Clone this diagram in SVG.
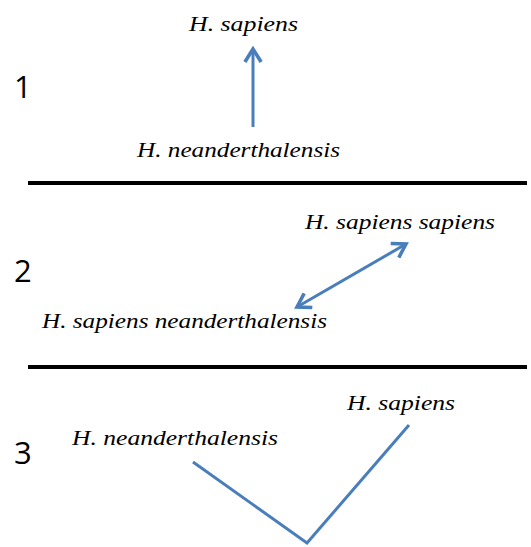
<svg xmlns="http://www.w3.org/2000/svg" width="531" height="547" viewBox="0 0 531 547">
<style>
.lbl{font-family:"Liberation Serif",serif;font-style:italic;font-size:22px;fill:#000}
.num{font-family:"Open Sans","Liberation Sans",sans-serif;font-size:31px;fill:#000}
.con{stroke:#4a7ebb;stroke-width:3;fill:none}
.sep{stroke:#000;stroke-width:4}
</style>
<defs>
<marker id="arr" viewBox="0 0 12 12" refX="10" refY="6" markerWidth="6.5" markerHeight="6.5" orient="auto-start-reverse" markerUnits="strokeWidth">
<path d="M2,1 L10,6 L2,11" fill="none" stroke="#4a7ebb" stroke-width="2.2"/>
</marker>
</defs>
<g id="separators">
<line class="sep" x1="28" y1="183" x2="527" y2="183"/>
<line class="sep" x1="28" y1="367" x2="527" y2="367"/>
</g>
<g id="numbers">
<text class="num" x="14" y="98">1</text>
<text class="num" x="14" y="282">2</text>
<text class="num" x="14" y="464">3</text>
</g>
<g id="n1-sapiens"><text class="lbl" x="189" y="31" textLength="109" lengthAdjust="spacingAndGlyphs">H. sapiens</text></g>
<g id="n1-neander"><text class="lbl" x="137" y="157" textLength="203" lengthAdjust="spacingAndGlyphs">H. neanderthalensis</text></g>
<g id="n2-sapiens"><text class="lbl" x="305" y="229" textLength="190" lengthAdjust="spacingAndGlyphs">H. sapiens sapiens</text></g>
<g id="n2-neander"><text class="lbl" x="42" y="328" textLength="285" lengthAdjust="spacingAndGlyphs">H. sapiens neanderthalensis</text></g>
<g id="n3-sapiens"><text class="lbl" x="347" y="410" textLength="108" lengthAdjust="spacingAndGlyphs">H. sapiens</text></g>
<g id="n3-neander"><text class="lbl" x="72" y="445" textLength="206" lengthAdjust="spacingAndGlyphs">H. neanderthalensis</text></g>
<g id="connectors">
<line class="con" x1="253" y1="127" x2="253" y2="49" marker-end="url(#arr)"/>
<line class="con" x1="297" y1="307" x2="406" y2="244" marker-start="url(#arr)" marker-end="url(#arr)"/>
<polyline class="con" points="193,462 307,543 409,425"/>
</g>
</svg>
